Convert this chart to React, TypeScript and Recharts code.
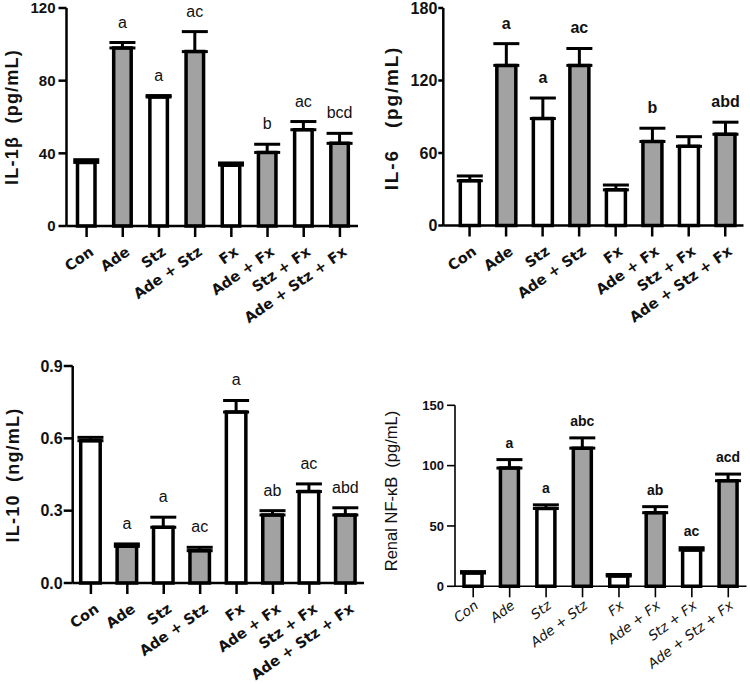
import { Bar, BarChart, Cell, ErrorBar, LabelList, XAxis, YAxis } from 'recharts';

const groups = ['Con', 'Ade', 'Stz', 'Ade + Stz', 'Fx', 'Ade + Fx', 'Stz + Fx', 'Ade + Stz + Fx'];
const shaded = [false, true, false, true, false, true, false, true];

const il1b = [35, 98, 71, 96, 33.5, 40.5, 53, 45.5];
const il1bErr = [1.5, 3, 0.8, 11, 1.2, 4.5, 4.5, 5.5];
const il1bSig = ['', 'a', 'a', 'ac', '', 'b', 'ac', 'bcd'];
const il1bTicks = [0, 40, 80, 120];

const il6 = [37, 132.5, 88.5, 132.5, 29.5, 69.5, 65.5, 75.5];
const il6Err = [4, 18, 17, 14, 4, 11, 8, 10];
const il6Sig = ['', 'a', 'a', 'ac', '', 'b', '', 'abd'];
const il6Ticks = [0, 60, 120, 180];

const il10 = [0.59, 0.152, 0.231, 0.134, 0.709, 0.282, 0.379, 0.282];
const il10Err = [0.014, 0.01, 0.042, 0.014, 0.048, 0.018, 0.032, 0.03];
const il10Sig = ['', 'a', 'a', 'ac', 'a', 'ab', 'ac', 'abd'];
const il10Ticks = [0, 0.3, 0.6, 0.9];

const nfkb = [11, 98, 64.5, 114.5, 8.5, 61, 30, 87.5];
const nfkbErr = [1.2, 7, 3, 8.5, 1.3, 5, 2, 5.5];
const nfkbSig = ['', 'a', 'a', 'abc', '', 'ab', 'ac', 'acd'];
const nfkbTicks = [0, 50, 100, 150];

const GREY = '#a2a2a2';
const ARIAL = '"Liberation Sans", Arial, sans-serif';
const DEJAVU = '"DejaVu Sans", Verdana, sans-serif';

interface Look {
  axisWidth: number;
  yTickFont: string;
  yTickSize: number;
  yTickWeight: number | string;
  yTickLen: number;
  yTickGap: number;
  xFont: string;
  xSize: number;
  xWeight: number | string;
  xStyle: string;
  xAngle: number;
  xDx: number;
  xDy: number;
  sigSize: number;
  sigWeight: number | string;
  sigGap: number;
}

const boldLook: Look = {
  axisWidth: 2.5,
  yTickFont: ARIAL,
  yTickSize: 15,
  yTickWeight: 'bold',
  yTickLen: 8,
  yTickGap: 3,
  xFont: DEJAVU,
  xSize: 14.5,
  xWeight: 'bold',
  xStyle: 'normal',
  xAngle: -35,
  xDx: 8,
  xDy: 15,
  sigSize: 16,
  sigWeight: 'normal',
  sigGap: 15,
};

function Panel({
  left,
  top,
  values,
  errors,
  sig,
  ticks,
  format,
  margin,
  padLeft,
  barSize,
  look,
  yLabel,
  labelX,
  labelY,
  labelFont,
}: {
  left: number;
  top: number;
  values: number[];
  errors: number[];
  sig: string[];
  ticks: number[];
  format: (v: number) => string;
  margin: { top: number; right: number; bottom: number; left: number };
  padLeft: number;
  barSize: number;
  look: Look;
  yLabel: string;
  labelX: number;
  labelY: number;
  labelFont: React.CSSProperties;
}) {
  const data = groups.map((group, i) => ({
    group,
    value: values[i],
    err: [0, errors[i]],
    sig: sig[i],
  }));

  // letter sits a fixed distance above the top of the error bar
  const renderSig = (p: any) => {
    const i = Number(p.index);
    const row = data[i];
    if (!row || !row.sig) return null;
    const k = Number(p.height) / row.value;
    const yTop = Number(p.y) - errors[i] * k;
    return (
      <text
        x={Number(p.x) + Number(p.width) / 2}
        y={yTop - look.sigGap}
        textAnchor="middle"
        fontFamily={ARIAL}
        fontSize={look.sigSize}
        fontWeight={look.sigWeight}
        fill="#111"
      >
        {row.sig}
      </text>
    );
  };

  const renderXTick = (p: any) => (
    <text
      transform={`translate(${p.x + look.xDx},${p.y + look.xDy}) rotate(${look.xAngle})`}
      textAnchor="end"
      fontFamily={look.xFont}
      fontSize={look.xSize}
      fontWeight={look.xWeight}
      fontStyle={look.xStyle}
      fill="#111"
    >
      {p.payload.value}
    </text>
  );

  return (
    <div style={{ position: 'absolute', left, top, width: 375, height: 342 }}>
      <BarChart width={375} height={342} data={data} margin={margin} barSize={barSize}>
        <XAxis
          dataKey="group"
          interval={0}
          height={60}
          padding={{ left: padLeft, right: 0 }}
          axisLine={{ stroke: '#000', strokeWidth: look.axisWidth }}
          tickLine={{ stroke: '#000', strokeWidth: look.axisWidth }}
          tickSize={11}
          tick={renderXTick}
        />
        <YAxis
          width={45}
          domain={[ticks[0], ticks[ticks.length - 1]]}
          ticks={ticks}
          interval={0}
          tickFormatter={format}
          axisLine={{ stroke: '#000', strokeWidth: look.axisWidth }}
          tickLine={{ stroke: '#000', strokeWidth: look.axisWidth }}
          tickSize={look.yTickLen}
          tickMargin={look.yTickGap}
          tick={{
            fill: '#111',
            fontFamily: look.yTickFont,
            fontSize: look.yTickSize,
            fontWeight: look.yTickWeight,
          }}
        />
        <Bar dataKey="value" stroke="#000" strokeWidth={3.5} isAnimationActive={false}>
          {data.map((d, i) => (
            <Cell key={d.group} fill={shaded[i] ? GREY : '#fff'} />
          ))}
          <ErrorBar dataKey="err" direction="y" width={13} stroke="#000" strokeWidth={3} />
          <LabelList dataKey="sig" content={renderSig} />
        </Bar>
      </BarChart>
      <div
        style={{
          position: 'absolute',
          left: labelX,
          top: labelY,
          transform: 'translate(-50%, -50%) rotate(-90deg)',
          whiteSpace: 'pre',
          color: '#111',
          ...labelFont,
        }}
      >
        {yLabel}
      </div>
    </div>
  );
}

export default function App() {
  const thinLook: Look = {
    ...boldLook,
    axisWidth: 1.6,
    yTickSize: 13,
    yTickGap: 3,
    xFont: DEJAVU,
    xSize: 13.5,
    xWeight: 'normal',
    xStyle: 'italic',
    xAngle: -37,
    xDx: 6,
    xDy: 8,
    sigSize: 14,
    sigWeight: 'bold',
    sigGap: 12,
  };
  const boldLabel: React.CSSProperties = {
    fontFamily: ARIAL,
    fontSize: 18,
    fontWeight: 'bold',
    letterSpacing: 1.2,
  };

  return (
    <div
      style={{
        position: 'absolute',
        left: 0,
        top: 0,
        width: 750,
        height: 684,
        background: '#fff',
        overflow: 'hidden',
      }}
    >
      <Panel
        left={0}
        top={0}
        values={il1b}
        errors={il1bErr}
        sig={il1bSig}
        ticks={il1bTicks}
        format={(v) => String(v)}
        margin={{ top: 8, right: 17, bottom: 56, left: 21.5 }}
        padLeft={2}
        barSize={17.5}
        look={boldLook}
        yLabel={'IL-1β  (pg/mL)'}
        labelX={12}
        labelY={117}
        labelFont={boldLabel}
      />
      <Panel
        left={375}
        top={0}
        values={il6}
        errors={il6Err}
        sig={il6Sig}
        ticks={il6Ticks}
        format={(v) => String(v)}
        margin={{ top: 8, right: 6.5, bottom: 56.5, left: 23.3 }}
        padLeft={8}
        barSize={19}
        look={{ ...boldLook, yTickSize: 16, yTickLen: 5, yTickGap: 1, sigWeight: 'bold' }}
        yLabel={'IL-6   (pg/mL)'}
        labelX={17}
        labelY={118}
        labelFont={{ ...boldLabel, fontSize: 19, letterSpacing: 1.8 }}
      />
      <Panel
        left={0}
        top={342}
        values={il10}
        errors={il10Err}
        sig={il10Sig}
        ticks={il10Ticks}
        format={(v) => v.toFixed(1)}
        margin={{ top: 24, right: 11, bottom: 41, left: 27.7 }}
        padLeft={0}
        barSize={19.5}
        look={{ ...boldLook, yTickSize: 16, yTickLen: 9, yTickGap: 1, xDx: 9 }}
        yLabel={'IL-10  (ng/mL)'}
        labelX={13}
        labelY={133}
        labelFont={boldLabel}
      />
      <Panel
        left={375}
        top={342}
        values={nfkb}
        errors={nfkbErr}
        sig={nfkbSig}
        ticks={nfkbTicks}
        format={(v) => String(v)}
        margin={{ top: 63.3, right: 3.5, bottom: 37.7, left: 35 }}
        padLeft={0}
        barSize={18}
        look={thinLook}
        yLabel={'Renal NF-κB  (pg/mL)'}
        labelX={16}
        labelY={149}
        labelFont={{ fontFamily: ARIAL, fontSize: 16.5, fontWeight: 'normal' }}
      />
    </div>
  );
}
